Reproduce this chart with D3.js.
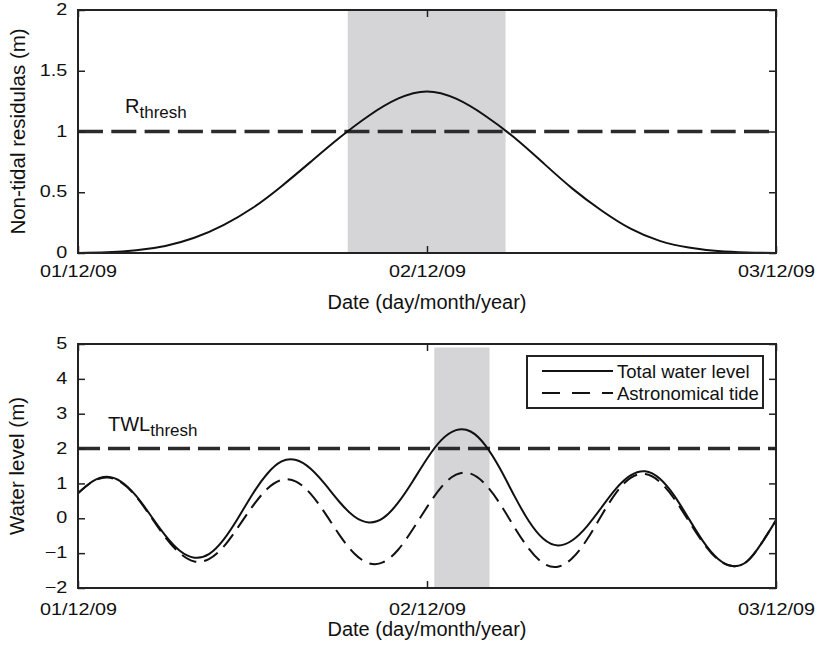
<!DOCTYPE html>
<html>
<head>
<meta charset="utf-8">
<script src="https://cdn.jsdelivr.net/npm/d3@7"></script>
<style>
body { margin: 0; background: #fff; }
svg text { font-family: "Liberation Sans", Arial, Helvetica, sans-serif; fill: #111; }
</style>
</head>
<body>
<div id="chart"></div>
<script>
// x values are hours after 01/12/09 00:00
var dateTicks = [0, 24, 48];
var dateLabels = ['01/12/09', '02/12/09', '03/12/09'];

// top panel: non-tidal residual
var residHours = [0, 2, 4, 6, 8, 10, 12, 14, 16, 18, 20, 22, 24, 26, 28, 30, 32, 34, 36, 38, 40, 42, 44, 46, 48];
var residual = [0, 0.006, 0.022, 0.058, 0.125, 0.23, 0.37, 0.55, 0.75, 0.95, 1.13, 1.27, 1.33, 1.27, 1.13, 0.95, 0.74, 0.53, 0.35, 0.2, 0.1, 0.045, 0.016, 0.004, 0];
var residThresh = 1;
var residShade = [18.55, 29.4];
var residTicks = [0, 0.5, 1, 1.5, 2];
var residTickLabels = ['0', '0.5', '1', '1.5', '2'];

// bottom panel: water levels
var tideHours = [0, 1, 2, 3, 4, 5, 6, 7, 8, 9, 10, 11, 12, 13, 14, 15, 16, 17, 18, 19, 20, 21, 22, 23, 24,
                 25, 26, 27, 28, 29, 30, 31, 32, 33, 34, 35, 36, 37, 38, 39, 40, 41, 42, 43, 44, 45, 46, 47, 48];
var totalLevel = [0.72, 1.06, 1.19, 1.04, 0.64, 0.08, -0.49, -0.93, -1.13, -1.03, -0.62, 0.0, 0.69, 1.27, 1.63,
                  1.67, 1.42, 0.97, 0.46, 0.05, -0.12, 0.01, 0.44, 1.05, 1.71, 2.25, 2.53, 2.49, 2.10, 1.44, 0.65,
                  -0.08, -0.59, -0.78, -0.63, -0.23, 0.31, 0.85, 1.23, 1.35, 1.14, 0.65, -0.01, -0.67, -1.16, -1.37,
                  -1.24, -0.72, -0.06];
var astroTide = [0.72, 1.05, 1.17, 1.02, 0.62, 0.05, -0.54, -1.0, -1.24, -1.17, -0.82, -0.26, 0.34, 0.84, 1.10,
                 1.05, 0.70, 0.14, -0.49, -1.01, -1.29, -1.26, -0.91, -0.33, 0.32, 0.90, 1.25, 1.28, 0.98, 0.43, -0.25,
                 -0.87, -1.29, -1.39, -1.14, -0.61, 0.08, 0.73, 1.16, 1.27, 1.05, 0.56, -0.08, -0.71, -1.18, -1.37,
                 -1.24, -0.72, -0.06];
var twlThresh = 2;
var twlShade = [24.5, 28.3];
var twlShadeTop = 4.9;
var twlTicks = [-2, -1, 0, 1, 2, 3, 4, 5];
var twlTickLabels = ['\u22122', '\u22121', '0', '1', '2', '3', '4', '5'];
var legendNames = ['Total water level', 'Astronomical tide'];

var svg = d3.select('#chart').append('svg')
            .attr('width', 821)
            .attr('height', 656);

function drawPanel(p) {
    var x = d3.scaleLinear().domain([0, 48]).range([78, 776]);
    var y = d3.scaleLinear().domain(p.domain).range([p.bottom, p.top]);
    var g = svg.append('g');

    g.append('rect')
     .attr('x', x(p.shade[0]))
     .attr('y', y(p.shadeTop))
     .attr('width', x(p.shade[1]) - x(p.shade[0]))
     .attr('height', y(p.domain[0]) - y(p.shadeTop))
     .style('fill', '#d5d5d7');

    g.append('line')
     .attr('x1', x(0)).attr('x2', x(48))
     .attr('y1', y(p.thresh)).attr('y2', y(p.thresh))
     .style('stroke', '#2b2b2b')
     .style('stroke-width', 3.5)
     .style('stroke-dasharray', p.threshDash);

    p.series.forEach(function (s) {
        var line = d3.line()
                     .x(function (d, i) { return x(s.hours[i]); })
                     .y(function (d) { return y(d); })
                     .curve(d3.curveNatural);
        g.append('path')
         .attr('d', line(s.values))
         .style('fill', 'none')
         .style('stroke', '#111')
         .style('stroke-width', 2)
         .style('stroke-dasharray', s.dash);
    });

    // axes, matlab style ticks pointing inwards
    g.append('g').attr('transform', 'translate(0,' + p.bottom + ')')
     .call(d3.axisBottom(x).tickValues(dateTicks)
             .tickFormat(function (d, i) { return dateLabels[i]; })
             .tickSizeInner(-7).tickSizeOuter(0).tickPadding(p.xPad));
    g.append('g').attr('transform', 'translate(0,' + p.top + ')')
     .call(d3.axisTop(x).tickValues(dateTicks).tickFormat('').tickSizeInner(-7).tickSizeOuter(0));
    var yl = g.append('g').attr('transform', 'translate(78,0)')
              .call(d3.axisLeft(y).tickValues(p.ticks)
                      .tickFormat(function (d, i) { return p.tickLabels[i]; })
                      .tickSizeInner(-7).tickSizeOuter(0).tickPadding(9));
    yl.selectAll('.tick text').attr('dy', '0.28em');
    g.append('g').attr('transform', 'translate(776,0)')
     .call(d3.axisRight(y).tickValues(p.ticks).tickFormat('').tickSizeInner(-7).tickSizeOuter(0));

    g.selectAll('.domain').remove();
    g.selectAll('.tick line').style('stroke', '#222').style('stroke-width', 1.5);
    g.selectAll('.tick text').style('font-size', '16.5px').style('fill', '#111')
     .attr('transform', 'scale(1.2,1)');

    g.append('rect')
     .attr('x', 78).attr('y', p.top)
     .attr('width', 698).attr('height', p.bottom - p.top)
     .style('fill', 'none')
     .style('stroke', '#222')
     .style('stroke-width', 2);

    g.append('text')
     .attr('x', 427).attr('y', p.bottom + p.titleGap)
     .attr('text-anchor', 'middle')
     .style('font-size', '20px')
     .text('Date (day/month/year)');

    g.append('text')
     .attr('transform', 'translate(' + p.yTitleX + ',' + ((p.top + p.bottom) / 2) + ') rotate(-90)')
     .attr('text-anchor', 'middle')
     .style('font-size', '20.5px')
     .text(p.yTitle);

    var lab = g.append('text')
               .attr('x', p.labelX).attr('y', p.labelY)
               .style('font-size', '20px')
               .text(p.label);
    lab.append('tspan').attr('dy', 5).style('font-size', '17px').text('thresh');

    return { x: x, y: y, g: g };
}

drawPanel({
    top: 10, bottom: 253, domain: [0, 2],
    ticks: residTicks, tickLabels: residTickLabels,
    shade: residShade, shadeTop: 2,
    thresh: residThresh, threshDash: '25,8.3',
    series: [{ hours: residHours, values: residual, dash: null }],
    xPad: 12, titleGap: 56, yTitle: 'Non-tidal residulas (m)', yTitleX: 25,
    label: 'R', labelX: 125, labelY: 113
});

var bottom = drawPanel({
    top: 344, bottom: 588, domain: [-2, 5],
    ticks: twlTicks, tickLabels: twlTickLabels,
    shade: twlShade, shadeTop: twlShadeTop,
    thresh: twlThresh, threshDash: '22,8',
    series: [{ hours: tideHours, values: totalLevel, dash: null },
             { hours: tideHours, values: astroTide, dash: '16,8' }],
    xPad: 15, titleGap: 48, yTitle: 'Water level (m)', yTitleX: 23.5,
    label: 'TWL', labelX: 108, labelY: 431
});

// legend
var leg = bottom.g.append('g');
leg.append('rect')
   .attr('x', 527).attr('y', 356).attr('width', 236).attr('height', 52)
   .style('fill', '#fff').style('stroke', '#222').style('stroke-width', 2);
var legDash = [null, '18,12'];
legendNames.forEach(function (name, i) {
    var ly = 371 + i * 22;
    leg.append('line')
       .attr('x1', 542).attr('x2', 613).attr('y1', ly).attr('y2', ly)
       .style('stroke', '#111').style('stroke-width', 2)
       .style('stroke-dasharray', legDash[i]);
    leg.append('text')
       .attr('x', 617).attr('y', ly + 6.5)
       .style('font-size', '18.5px')
       .text(name);
});
</script>
</body>
</html>
